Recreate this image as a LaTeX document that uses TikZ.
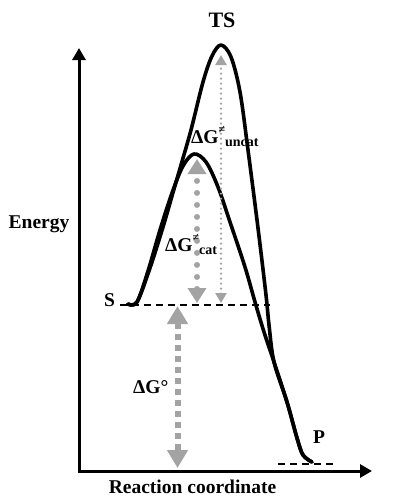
\documentclass[tikz,border=0pt]{standalone}
\usepackage{fontspec}
\setmainfont{Liberation Serif}
\usetikzlibrary{arrows.meta}
\definecolor{arrowgray}{RGB}{163,163,163}

\begin{document}
\begin{tikzpicture}[
  x=1pt, y=-1pt,
  font=\fontsize{19.5}{22}\selectfont\bfseries,
  axis/.style={
    line width=3pt,
    line join=miter,
    {Triangle[length=12pt,width=13pt]}-{Triangle[length=12pt,width=13pt]}
  },
  curve/.style={line width=3.6pt, line join=round, line cap=round},
  level/.style={line width=1.8pt, dash pattern=on 7pt off 5pt},
  uncatarrow/.style={
    draw=arrowgray,
    line width=2.6pt,
    line cap=round,
    dash pattern=on 0pt off 5pt,
    {Triangle[length=10pt,width=11pt]}-{Triangle[length=10pt,width=11pt]}
  },
  catarrow/.style={
    draw=arrowgray,
    line width=6pt,
    line cap=round,
    dash pattern=on 0pt off 12pt,
    {Triangle[length=15pt,width=18pt]}-{Triangle[length=15pt,width=18pt]}
  },
  dgarrow/.style={
    draw=arrowgray,
    line width=6pt,
    dash pattern=on 6pt off 5pt,
    {Triangle[length=18pt,width=20pt]}-{Triangle[length=18pt,width=20pt]}
  },
  lab/.style={inner sep=0pt, anchor=base},
  big/.style={font=\fontsize{22}{24}\selectfont\bfseries}
]
\useasboundingbox (0,0) rectangle (398,504);

% axes
\coordinate (origin) at (79,471);
\coordinate (ytip) at (79,48);
\coordinate (xtip) at (372,471);
\draw[axis] (ytip) -- (origin) -- (xtip);

\node[lab] (energy) at (39,228) {Energy};
\node[lab] (rc) at (192.5,493) {Reaction coordinate};

% levels
\coordinate (sleft) at (120,305);
\coordinate (sright) at (270,305);
\coordinate (pleft) at (278,464);
\coordinate (pright) at (336,464);
\draw[level] (sleft) -- (sright);
\draw[level] (pleft) -- (pright);

\node[lab] (s) at (109.5,306) {S};
\node[lab] (p) at (319,443) {P};
\node[lab, big] (ts) at (222,27) {TS};

% uncatalysed profile
\draw[curve] plot[smooth, tension=0.55] coordinates {
  (128,304) (137,302) (150,268) (163,227) (172,196) (181,165)
  (191,130) (203,82) (212,56) (221,45) (231,57) (240,92)
  (248,150) (258,228) (266,295) (269,325) (274,362) (287,402)
  (297,438) (303,455) (312,462)};

% catalysed profile
\draw[curve] plot[smooth, tension=0.55] coordinates {
  (128,304) (137,302) (148,271) (160,230) (172,193) (183,166)
  (194,154) (206,162) (218,187) (230,222) (245,267) (255,302)
  (264,332) (274,362) (287,402) (297,438) (303,455) (312,462)};

% barriers
\coordinate (uncatlow) at (221,303);
\coordinate (uncattop) at (221,55);
\coordinate (catlow) at (197,303);
\coordinate (cattop) at (197,159);
\coordinate (dgtop) at (177.5,306);
\coordinate (dglow) at (177.5,468);
\draw[uncatarrow] (uncatlow) -- (uncattop);
\draw[catarrow] (catlow) -- (cattop);
\draw[dgarrow] (dgtop) -- (dglow);

\node[lab, anchor=base west] (dguncat) at (191,143)
  {ΔG\raisebox{1.1ex}{\fontsize{12}{12}\selectfont ≠}\raisebox{-0.35ex}{\fontsize{14}{14}\selectfont uncat}};
\node[lab, anchor=base west] (dgcat) at (165,251)
  {ΔG\raisebox{1.1ex}{\fontsize{12}{12}\selectfont ≠}\raisebox{-0.35ex}{\fontsize{14}{14}\selectfont cat}};
\node[lab, anchor=base west] (dgzero) at (133,393) {ΔG°};
\end{tikzpicture}
\end{document}
